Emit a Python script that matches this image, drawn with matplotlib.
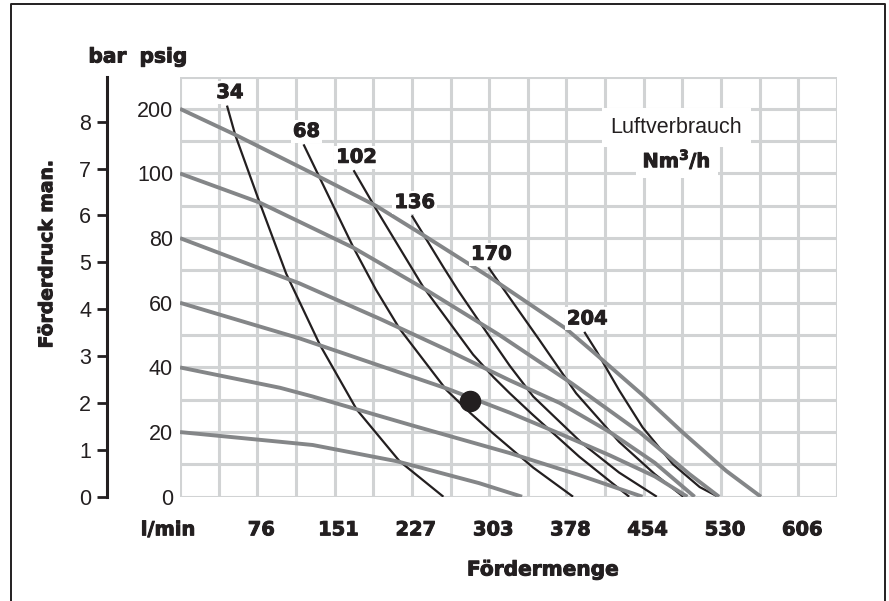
import numpy as np
import matplotlib.pyplot as plt
import matplotlib.patheffects as pe
from matplotlib.lines import Line2D
from matplotlib.transforms import ScaledTranslation

plt.rcParams['font.family'] = ['Liberation Sans', 'DejaVu Sans']
plt.rcParams['mathtext.fontset'] = 'dejavusans'

# x in l/min, y in psig
# gray: pump curves for each air inlet pressure (psig)
x120 = [0, 54, 130, 192, 238, 303, 378, 404, 453, 492, 535, 569]
y120 = [120, 112, 100, 90, 81, 68, 52, 45, 31.5, 20, 8, 0]
x100 = [0, 78, 170, 241, 313, 384, 450, 499, 528]
y100 = [100, 91, 77, 64, 50, 35, 20, 7, 0]
x80 = [0, 117, 196, 261, 323, 372, 421, 465, 504]
y80 = [80, 66, 55, 45.5, 36, 29, 20, 10.5, 0]
x60 = [0, 117, 261, 323, 372, 421, 465, 497]
y60 = [60, 49, 33.5, 26, 19.5, 12.8, 6.3, 0]
x40 = [0, 98, 130, 228, 323, 391, 453]
y40 = [40, 33.7, 31, 22, 13.5, 6.7, 0]
x20 = [0, 98, 130, 212, 293, 335]
y20 = [20, 17, 16, 11, 4.2, 0]

# black: air consumption lines (Nm3/h)
x34 = [46, 54, 78, 104, 137, 173, 215, 258]
y34 = [121, 112, 91, 69, 47, 27, 11, 0]
x68 = [121, 170, 192, 215, 261, 284, 307, 346, 385]
y68 = [109, 77, 64, 52, 33, 26, 19.5, 9, 0]
x102 = [170, 192, 215, 238, 287, 307, 323, 345, 391, 440]
y102 = [101, 89, 77, 65, 44, 37, 32, 25.5, 12.4, 0]
x136 = [227, 258, 272, 300, 323, 346, 394, 430, 467]
y136 = [87, 71, 64, 51, 40.5, 31, 16.5, 7.5, 0]
x170 = [302, 313, 323, 352, 388, 430, 465, 493]
y170 = [71, 66, 61.5, 48.5, 32, 17, 7, 0]
x204 = [396, 408, 430, 453, 483, 509, 527]
y204 = [51, 45, 33, 21.5, 10, 3, 0]

gray_curves = [(x120, y120), (x100, y100), (x80, y80), (x60, y60), (x40, y40), (x20, y20)]
air_curves = [(x34, y34, '34'), (x68, y68, '68'), (x102, y102, '102'),
              (x136, y136, '136'), (x170, y170, '170'), (x204, y204, '204')]

op_x = [284]
op_y = [29.6]

x_ticks = [75.7, 151.4, 227.1, 302.8, 378.5, 454.2, 529.9, 605.6]
x_labels = ['76', '151', '227', '303', '378', '454', '530', '606']
psig_ticks = [0, 20, 40, 60, 80, 100, 120]
psig_labels = ['0', '20', '40', '60', '80', '100', '200']
bar_ticks = [0, 1, 2, 3, 4, 5, 6, 7, 8]

PSI_PER_BAR = 14.5038
cell_x = 37.854  # 10 US gpm in l/min
dark = '#231f20'
grid_c = '#d1d3d4'
heavy = [pe.withStroke(linewidth=0.7, foreground=dark)]
bold = dict(family='DejaVu Sans', fontweight='bold', color=dark, path_effects=heavy)

fig = plt.figure(figsize=(8.89, 6.01), dpi=100)
ax = fig.add_axes([0.2025, 0.1735, 0.739, 0.6992])
ax.set_xlim(0, 17 * cell_x)
ax.set_ylim(0, 130)
for s in ax.spines.values():
    s.set_visible(False)

for k in range(18):
    ax.axvline(k * cell_x, color=grid_c, lw=2.2, zorder=0)
for v in np.arange(0, 131, 10):
    ax.axhline(v, color=grid_c, lw=2.2, zorder=0)

for xs, ys, lab in air_curves:
    ax.plot(xs, ys, color=dark, lw=1.6, zorder=2, solid_capstyle='butt', solid_joinstyle='round')
    ax.annotate(lab, xy=(xs[0], ys[0]), xytext=(3, 13), textcoords='offset pixels',
                ha='center', va='center', fontsize=14, zorder=5,
                bbox=dict(boxstyle='square,pad=0.1', fc='white', ec='none'), **bold)

for xs, ys in gray_curves:
    ax.plot(xs, ys, color='#848688', lw=2.8, zorder=3, solid_capstyle='butt', solid_joinstyle='round')

ax.plot(op_x, op_y, 'o', ms=14.5, color=dark, zorder=6)

ax.text(486, 114.2, 'Luftverbrauch', ha='center', va='center', fontsize=15.5, color=dark,
        zorder=4, bbox=dict(boxstyle='square,pad=0.4', fc='white', ec='none'))
ax.text(486.5, 104.3, r'Nm$^{\mathbf{3}}$/h', ha='center', va='center', fontsize=14, zorder=4,
        bbox=dict(boxstyle='square,pad=0.35', fc='white', ec='none'), **bold)

ax.set_yticks(psig_ticks, psig_labels)
ax.tick_params(axis='y', length=0, pad=5, labelsize=15.5, labelcolor=dark)
ax.set_xticks([0] + x_ticks, ['l/min'] + x_labels)
ax.tick_params(axis='x', length=0, pad=17)
for i, t in enumerate(ax.get_xticklabels()):
    t.set_fontfamily('DejaVu Sans')
    t.set_fontweight('bold')
    t.set_fontsize(14)
    t.set_color(dark)
    t.set_path_effects(heavy)
    dx = -12 if i == 0 else 4
    t.set_transform(t.get_transform() + ScaledTranslation(dx / 100, 0, fig.dpi_scale_trans))

sec = ax.secondary_yaxis(-0.1107, functions=(lambda p: p / PSI_PER_BAR, lambda b: b * PSI_PER_BAR))
sec.set_yticks(bar_ticks)
sec.tick_params(length=7.5, width=2, pad=4, labelsize=15.5, labelcolor=dark, color=dark)
sec.spines['left'].set_linewidth(2.2)
sec.spines['left'].set_color(dark)

fig.text(107.5 / 889, 1 - 57 / 601, 'bar', ha='center', va='center', fontsize=14.5, **bold)
fig.text(163.5 / 889, 1 - 57 / 601, 'psig', ha='center', va='center', fontsize=14.5, **bold)
fig.text(46.7 / 889, 1 - 254 / 601, 'Förderdruck man.', rotation=90, ha='center', va='center',
         fontsize=13.5, **bold)
fig.text(543 / 889, 1 - 570 / 601, 'Fördermenge', ha='center', va='center', fontsize=14.5, **bold)

fig.add_artist(Line2D([10.7 / 889, 10.7 / 889, 885 / 889, 885 / 889], [0, 1 - 4 / 601, 1 - 4 / 601, 0],
                      transform=fig.transFigure, color=dark, lw=1.4))

fig.savefig('out.png', dpi=100)
